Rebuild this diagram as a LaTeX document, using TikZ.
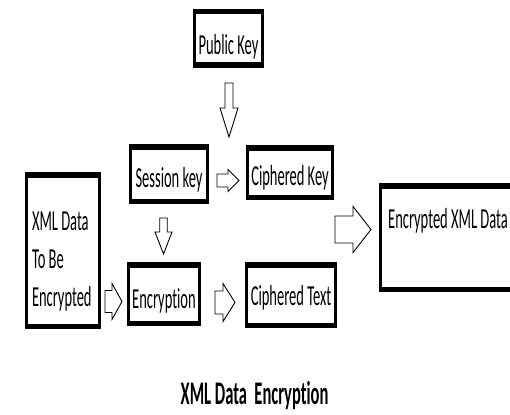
\documentclass[tikz,border=0pt]{standalone}
\usepackage{fontspec}
\setmainfont{Carlito}[FakeStretch=0.5, Ligatures={NoCommon}]
\newcommand\rblock[5]{\draw[barrow,shift={#1}] (0,-#3) -- ({#2-#5},-#3) -- ({#2-#5},-#4) -- (#2,0) -- ({#2-#5},#4) -- ({#2-#5},#3) -- (0,#3) -- cycle;}
\newcommand\dblock[5]{\draw[barrow,shift={#1}] (-#3,0) -- (-#3,{#2-#5}) -- (-#4,{#2-#5}) -- (0,#2) -- (#4,{#2-#5}) -- (#3,{#2-#5}) -- (#3,0) -- cycle;}
\begin{document}
\begin{tikzpicture}[x=1pt,y=-1pt,
  kbox/.style={draw, line width=3pt, inner sep=0pt, outer sep=0pt, font=\fontsize{29}{38}\selectfont, text=black},
  barrow/.style={draw=black, fill=white, line width=0.9pt, line join=miter},
  edge/.style={line width=5.5pt}]
\useasboundingbox[fill=white] (0,0) rectangle (510,414);

\node[kbox, minimum width=68pt, text height=43.25pt, text depth=10.25pt] (pub) at (228.5,38.5) {Public Key};
\node[kbox, minimum width=77pt, text height=40.25pt, text depth=14.25pt] (sess) at (169,174) {Session key};
\node[kbox, minimum width=85pt, text height=37.25pt, text depth=12.25pt] (ck) at (290,172.5) {Ciphered Key};
\node[kbox, inner xsep=5.5pt, text height=55.25pt, text depth=96.25pt] (xml) at (63,250.5)
  {\parbox[t]{62pt}{\raggedright XML Data\\To Be\\Encrypted}};
\node[kbox, minimum width=71pt, text height=43.25pt, text depth=15.25pt] (enc) at (164,294) {Encryption};
\node[kbox, minimum width=89pt, text height=40.25pt, text depth=20.25pt] (ct) at (291,295) {Ciphered Text};
\node[kbox, minimum width=135pt, text height=42.25pt, text depth=61.25pt] (out) at (448,237.5) {Encrypted XML Data};

\foreach \n in {pub,sess,ck,xml,enc,ct,out}{
  \draw[edge] ([xshift=-1.5pt]\n.north west) -- ([xshift=1.5pt]\n.north east);
  \draw[edge] ([xshift=-1.5pt]\n.south west) -- ([xshift=1.5pt]\n.south east);
}

\coordinate (a1) at (229,83);
\coordinate (a2) at (217,180.5);
\coordinate (a3) at (163.5,218);
\coordinate (a4) at (105,301.5);
\coordinate (a5) at (215,302.5);
\coordinate (a6) at (335,229.5);
\dblock{(a1)}{54}{4}{9}{29}
\rblock{(a2)}{22}{6.5}{11}{11}
\dblock{(a3)}{36}{3.75}{8.5}{22}
\rblock{(a4)}{17}{11}{18}{10}
\rblock{(a5)}{20}{11.5}{19}{12}
\rblock{(a6)}{36}{13.5}{23}{18}

\node[anchor=base, font=\fontsize{33}{40}\selectfont\bfseries] (title) at (254.5,404) {XML Data\ \ Encryption};
\end{tikzpicture}
\end{document}
